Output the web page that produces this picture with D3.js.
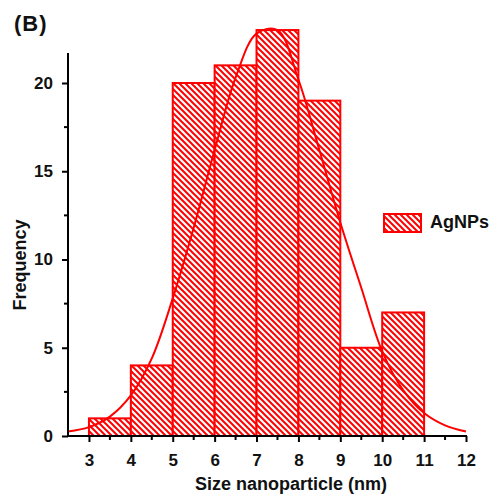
<!DOCTYPE html>
<html>
<head>
<meta charset="utf-8">
<script src="https://cdn.jsdelivr.net/npm/d3@7"></script>
<style>
  body { margin: 0; background: #fff; }
  svg { display: block; font-family: Arial, "Liberation Sans", sans-serif; }
</style>
</head>
<body>
<div class="wrapper"></div>
<script>
let width = 493;
let height = 495;

// histogram bins (nm) and counts
let binStart = [3, 4, 5, 6, 7, 8, 9, 10];
let binEnd = [4, 5, 6, 7, 8, 9, 10, 11];
let counts = [1, 4, 20, 21, 23, 19, 5, 7];

// fitted curve
let curveX = [2.5, 3, 3.5, 4, 4.5, 5, 5.5, 6, 6.5, 7, 7.5, 8, 8.5, 9, 9.5, 10, 10.5, 11, 11.5, 12];
let curveY = [0.25, 0.5, 1.1, 2.3, 4.4, 7.8, 11.8, 16.2, 20.3, 22.8, 23.0, 20.2, 16.2, 12.1, 8.4, 4.8, 2.6, 1.3, 0.6, 0.25];

let xTicks = [3, 4, 5, 6, 7, 8, 9, 10, 11, 12];
let yTicks = [0, 5, 10, 15, 20];
let xMinor = [3.5, 4.5, 5.5, 6.5, 7.5, 8.5, 9.5, 10.5, 11.5];
let yMinor = [2.5, 7.5, 12.5, 17.5];

let red = "#ff0000";
let ink = "#111";

let x = d3.scaleLinear().domain([2.5, 12]).range([68, 466]);
let y = d3.scaleLinear().domain([0, 20]).range([436, 83]);

let svg = d3.select(".wrapper")
    .append("svg")
    .attr("width", width)
    .attr("height", height);

// "\" hatch
let hatch = svg.append("defs").append("pattern")
    .attr("id", "hatch")
    .attr("patternUnits", "userSpaceOnUse")
    .attr("width", 6)
    .attr("height", 6);
hatch.append("rect").attr("width", 6).attr("height", 6).attr("fill", "#fff");
hatch.append("path")
    .attr("d", "M-3,3 L3,9 M0,0 L6,6 M3,-3 L9,3")
    .attr("stroke", red)
    .attr("stroke-width", 2);

// bars
svg.selectAll(".bar")
    .data(counts)
    .enter()
    .append("rect")
    .classed("bar", true)
    .attr("x", function (d, i) {return x(binStart[i])})
    .attr("width", function (d, i) {return x(binEnd[i]) - x(binStart[i])})
    .attr("y", function (d) {return y(d)})
    .attr("height", function (d) {return y(0) - y(d)})
    .attr("fill", "url(#hatch)")
    .attr("stroke", red)
    .attr("stroke-width", 2);

// fit curve
let line = d3.line()
    .x(function (d, i) {return x(curveX[i])})
    .y(function (d) {return y(d)})
    .curve(d3.curveCatmullRom);

svg.append("path")
    .attr("d", line(curveY))
    .attr("fill", "none")
    .attr("stroke", red)
    .attr("stroke-width", 2);

// axes
let xAxis = svg.append("g")
    .attr("transform", "translate(0," + y(0) + ")")
    .call(d3.axisBottom(x).tickValues(xTicks).tickSize(6).tickPadding(6).tickFormat(d3.format("d")));
xAxis.selectAll("text").attr("y", 18);
xAxis.append("g").selectAll("line")
    .data(xMinor)
    .enter()
    .append("line")
    .attr("x1", function (d) {return x(d)})
    .attr("x2", function (d) {return x(d)})
    .attr("y1", 0)
    .attr("y2", 4)
    .attr("stroke", "#000")
    .attr("stroke-width", 2);

let yAxis = svg.append("g")
    .attr("transform", "translate(" + x(2.5) + ",0)")
    .call(d3.axisLeft(y).tickValues(yTicks).tickSize(6).tickPadding(9));
yAxis.append("g").selectAll("line")
    .data(yMinor)
    .enter()
    .append("line")
    .attr("x1", 0)
    .attr("x2", -4)
    .attr("y1", function (d) {return y(d)})
    .attr("y2", function (d) {return y(d)})
    .attr("stroke", "#000")
    .attr("stroke-width", 2);

[xAxis, yAxis].forEach(function (g) {
    g.select(".domain").remove();
    g.selectAll(".tick line").attr("stroke", "#000").attr("stroke-width", 2);
    g.selectAll("text")
        .attr("font-size", 17)
        .attr("font-weight", "bold")
        .attr("fill", ink)
        .attr("font-family", "Arial, 'Liberation Sans', sans-serif");
});

// axis lines
svg.append("line")
    .attr("x1", x(2.5)).attr("x2", x(2.5))
    .attr("y1", 53).attr("y2", y(0) + 1)
    .attr("stroke", "#000").attr("stroke-width", 2);
svg.append("line")
    .attr("x1", x(2.5) - 1).attr("x2", x(12) + 1)
    .attr("y1", y(0)).attr("y2", y(0))
    .attr("stroke", "#000").attr("stroke-width", 2);

// labels
svg.append("text")
    .attr("x", 291)
    .attr("y", 490)
    .attr("text-anchor", "middle")
    .attr("font-size", 18)
    .attr("font-weight", "bold")
    .attr("fill", ink)
    .text("Size nanoparticle (nm)");

svg.append("text")
    .attr("transform", "translate(26,265) rotate(-90)")
    .attr("text-anchor", "middle")
    .attr("font-size", 18)
    .attr("font-weight", "bold")
    .attr("fill", ink)
    .text("Frequency");

svg.append("text")
    .attr("x", 14)
    .attr("y", 31)
    .attr("font-size", 22)
    .attr("font-weight", "bold")
    .attr("letter-spacing", 1)
    .attr("fill", ink)
    .text("(B)");

// legend
svg.append("rect")
    .attr("x", 384)
    .attr("y", 214)
    .attr("width", 37)
    .attr("height", 18)
    .attr("fill", "url(#hatch)")
    .attr("stroke", red)
    .attr("stroke-width", 2);

svg.append("text")
    .attr("x", 430)
    .attr("y", 228)
    .attr("font-size", 18)
    .attr("font-weight", "bold")
    .attr("fill", ink)
    .text("AgNPs");
</script>
</body>
</html>
